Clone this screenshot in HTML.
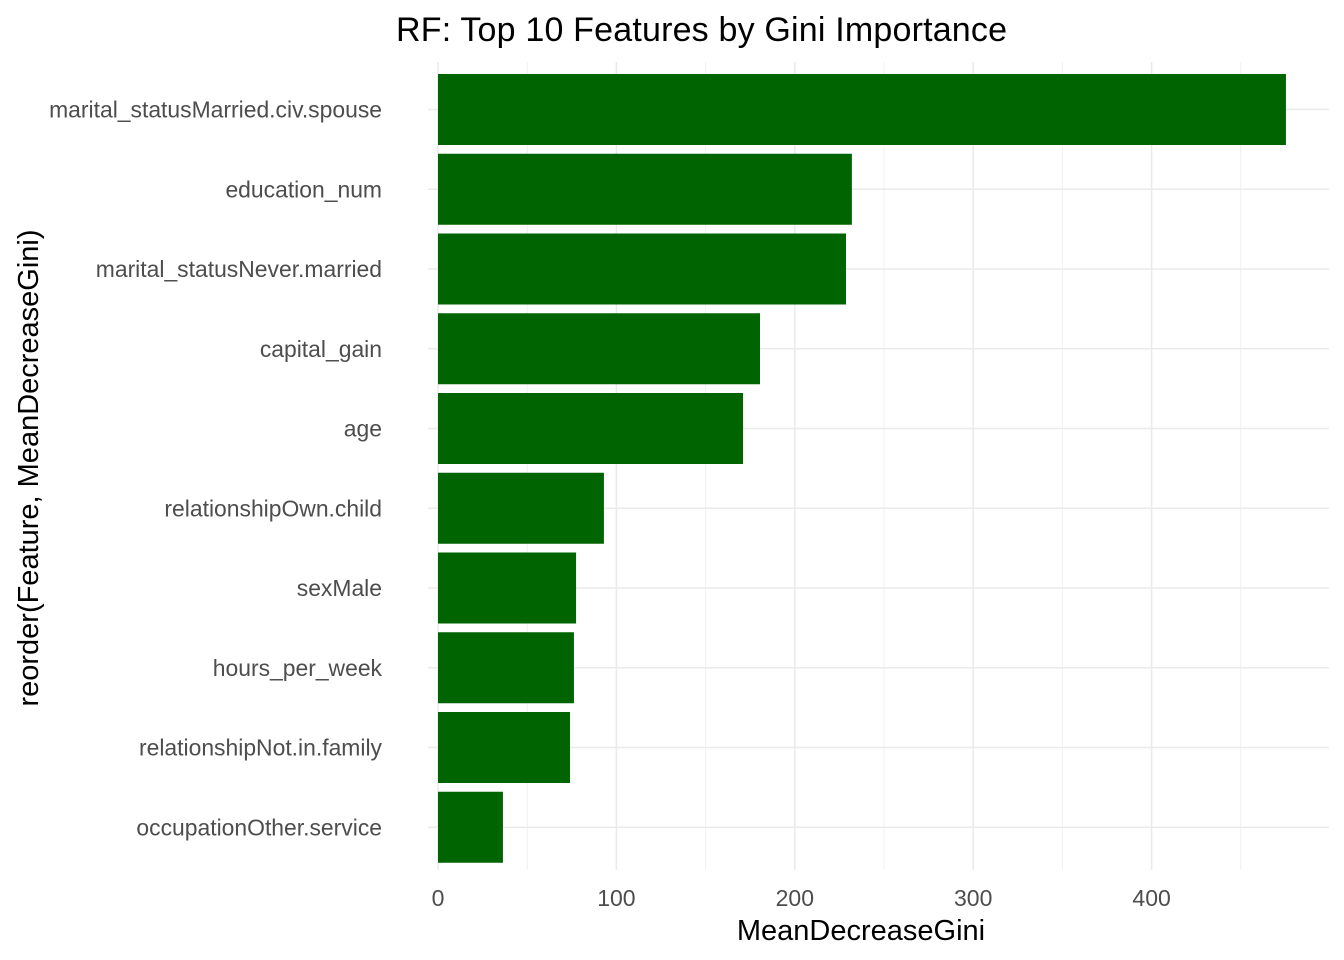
<!DOCTYPE html>
<html><head><meta charset="utf-8"><style>
body{margin:0;background:#fff;}
svg{display:block;font-family:"Liberation Sans",Arial,sans-serif;}
</style></head><body>
<svg id="chart" width="1344" height="960">
<text x="396" y="41" font-size="34" textLength="611" fill="#000">RF: Top 10 Features by Gini Importance</text>
<g id="grid"></g><g id="bars"></g><g id="ylabels"></g><g id="xlabels"></g>
<text x="861" y="940" font-size="29" text-anchor="middle" fill="#000">MeanDecreaseGini</text>
<text transform="translate(38,468) rotate(-90)" font-size="29" text-anchor="middle" fill="#000">reorder(Feature, MeanDecreaseGini)</text>
</svg>
<script>
const features=["marital_statusMarried.civ.spouse","education_num","marital_statusNever.married","capital_gain","age","relationshipOwn.child","sexMale","hours_per_week","relationshipNot.in.family","occupationOther.service"];
const values=[475.3,232,228.7,180.5,171,93,77.4,76.2,74,36.4];
const xTicks=[0,100,200,300,400];
const ns="http://www.w3.org/2000/svg";
const x0=438,pxPer=1.784,yTop=109.5,step=79.75,barH=71,panelL=428,panelR=1329,panelT=62,panelB=870;
const X=v=>x0+v*pxPer, Y=i=>yTop+i*step;
function mk(t,a,p){const e=document.createElementNS(ns,t);for(const k in a)e.setAttribute(k,a[k]);p.appendChild(e);return e;}
const g=document.getElementById('grid');
for(let v=50;X(v)<panelR;v+=100){const l=mk('line',{x1:X(v),x2:X(v),y1:panelT,y2:panelB,stroke:'#f0f0f0','stroke-width':1},g);

}
xTicks.forEach(v=>{const l=mk('line',{x1:X(v),x2:X(v),y1:panelT,y2:panelB,stroke:'#ebebeb','stroke-width':1.6},g);


const t=mk('text',{x:X(v),y:906,'font-size':23,'text-anchor':'middle',fill:'#4d4d4d'},document.getElementById('xlabels'));t.textContent=v;

});
features.forEach((f,i)=>{const l=mk('line',{x1:panelL,x2:panelR,y1:Y(i),y2:Y(i),stroke:'#ebebeb','stroke-width':1.6},g);


const r=mk('rect',{x:X(0),y:Y(i)-barH/2,width:X(values[i])-X(0),height:barH,fill:'#006400'},document.getElementById('bars'));


const t=mk('text',{x:382,y:Y(i)+8,'font-size':22.9,'text-anchor':'end',fill:'#4d4d4d'},document.getElementById('ylabels'));t.textContent=f;

});
</script>
</body></html>
